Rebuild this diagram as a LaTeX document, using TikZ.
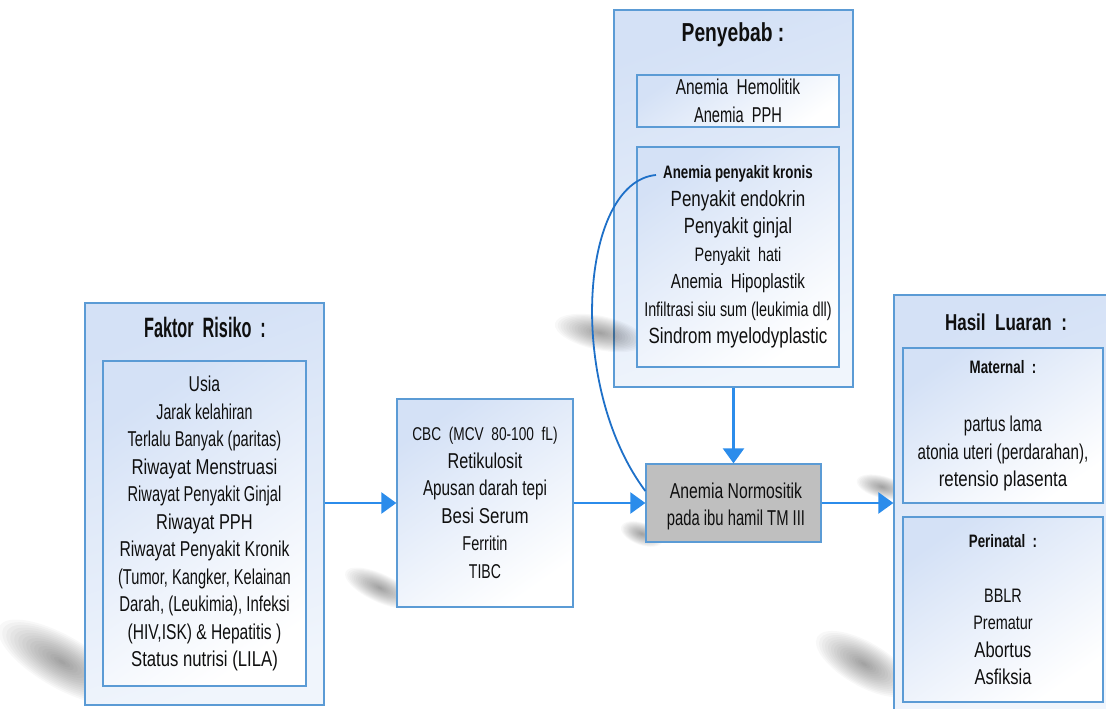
\documentclass[tikz,border=0pt]{standalone}
\usepackage{fontspec}
\setmainfont{Liberation Sans}[FakeStretch=0.74]
\newfontfamily\narrowtitle{Liberation Sans}[FakeStretch=0.58]
\usetikzlibrary{arrows.meta}
\definecolor{bord}{RGB}{91,155,213}
\definecolor{fillA}{RGB}{212,225,246}
\definecolor{fillB}{RGB}{240,245,252}
\definecolor{arrc}{RGB}{43,140,235}
\definecolor{curvc}{RGB}{30,112,200}
\definecolor{grayfill}{RGB}{191,191,191}
\definecolor{txt}{RGB}{15,15,15}
\newcommand\fs[1]{\fontsize{#1}{27.5}\selectfont}
\newcommand\hs[2]{\scalebox{#1}[1]{#2}}
\newcommand\softshadow[5]{\foreach \k in {1,...,16}{\fill[black,opacity=0.028,rotate around={#5:(#1,#2)}] (#1,#2) ellipse [x radius={#3*\k/16}, y radius={#4*\k/16}];}}
\tikzset{
  outerbox/.style={draw=bord, line width=1.3pt, top color=fillA, bottom color=fillB, shading angle=20, inner sep=0pt},
  innerbox/.style={draw=bord, line width=1.3pt, top color=fillA, bottom color=white, shading angle=35, align=center, text=txt, inner sep=0pt, font=\fs{21}},
  graybox/.style={draw=bord, line width=1.3pt, fill=grayfill, inner sep=0pt},
  plaintext/.style={text=txt, inner sep=0pt, align=center, font=\fs{21}},
  titletext/.style={text=txt, inner sep=0pt},
  arrow/.style={draw=arrc, line width=2.5pt, -{Triangle[length=15pt,width=21pt]}},
  curvearrow/.style={draw=curvc, line width=1.8pt}
}
\begin{document}
\begin{tikzpicture}[x=1pt,y=-1pt]
\path[use as bounding box] (0,0) rectangle (1106,709);
\clip (0,0) rectangle (1106,709);
% shadows behind boxes
\softshadow{62}{662}{72}{26}{-30}
\softshadow{380}{588}{38}{14}{-25}
\softshadow{642}{534}{22}{11}{-20}
\softshadow{882}{487}{26}{11}{-15}
\softshadow{864}{664}{54}{22}{-30}
% outer boxes
\node[outerbox, minimum width=239pt, minimum height=402pt] (faktor) at (204.5,504) {};
\node[outerbox, minimum width=239pt, minimum height=377pt] (penyebab) at (733.5,198.5) {};
\node[outerbox, minimum width=221pt, minimum height=420pt] (hasil) at (1004.5,505) {};
\softshadow{600}{333}{46}{17}{-12}
% titles
\node[titletext, font=\narrowtitle\bfseries\fs{28}] (ftitle) at (205,327) {Faktor\ \ Risiko\ \ :};
\node[titletext, font=\bfseries\fs{26}] (ptitle) at (733,35) {Penyebab :};
\node[titletext, font=\bfseries\fs{23}] (htitle) at (1006,322) {Hasil\ \ Luaran\ \ :};
% inner boxes
\node[innerbox, font=\fs{21.5}, minimum width=203pt, minimum height=325pt] (faktorin) at (204.5,523.5) {%
\hs{.99}{Usia}\\ \hs{.89}{Jarak kelahiran}\\ \hs{.92}{Terlalu Banyak (paritas)}\\ \hs{1.05}{Riwayat Menstruasi}\\ \hs{.92}{Riwayat Penyakit Ginjal}\\ \hs{1.03}{Riwayat PPH}\\ \hs{.99}{Riwayat Penyakit Kronik}\\ \hs{.92}{(Tumor, Kangker, Kelainan}\\ \hs{.94}{Darah, (Leukimia), Infeksi}\\ \hs{.98}{(HIV,ISK) \& Hepatitis )}\\ \hs{1.05}{Status nutrisi (LILA)}};
\node[innerbox, minimum width=176pt, minimum height=208pt] (cbc) at (485,503) {%
{\fs{18.5}CBC\ \ (MCV\ \ 80-100\ \ fL)}\\ {\fs{21.5}\hs{1.02}{Retikulosit}}\\ {\fs{21.5}\hs{.96}{Apusan darah tepi}}\\ {\fs{21.5}\hs{1.06}{Besi Serum}}\\ {\fs{20}\hs{.98}{Ferritin}}\\ {\fs{20}\hs{.95}{TIBC}}};
\node[innerbox, font=\fs{21.5}, minimum width=202pt, minimum height=52pt] (pen1) at (738,101) {%
\hs{.97}{Anemia\ \ Hemolitik}\\ \hs{.92}{Anemia\ \ PPH}};
\node[innerbox, minimum width=202pt, minimum height=220pt] (pen2) at (738,257) {%
{\bfseries\fs{18}Anemia penyakit kronis}\\ {\fs{22}\hs{1.04}{Penyakit endokrin}}\\ {\fs{22}\hs{1.03}{Penyakit ginjal}}\\ {\fs{19.5}Penyakit\ \ hati}\\ {\fs{20.5}Anemia\ \ Hipoplastik}\\ {\fs{20}\hs{.97}{Infiltrasi siu sum (leukimia dll)}}\\ {\fs{22}\hs{1.04}{Sindrom myelodyplastic}}};
\node[graybox, minimum width=175pt, minimum height=78pt] (anemia) at (733.5,503) {};
\node[plaintext, font=\fs{21.5}] (anemiatxt) at (736,506.5) {\hs{.99}{Anemia Normositik}\\ \hs{.93}{pada ibu hamil TM III}};
\node[innerbox, font=\fs{21.5}, minimum width=200pt, minimum height=155pt] (maternal) at (1003,425.5) {%
{\bfseries\fs{18}Maternal\ \ :}\\[31pt] \hs{.94}{partus lama}\\ \hs{.95}{atonia uteri (perdarahan),}\\ \hs{1.06}{retensio plasenta}};
\node[innerbox, minimum width=200pt, minimum height=185pt] (perinatal) at (1003,609.5) {%
{\bfseries\fs{18}Perinatal\ \ :}\\[27.5pt] {\fs{19.5}BBLR}\\ {\fs{19.5}Prematur}\\ {\fs{21.5}\hs{1.04}{Abortus}}\\ {\fs{21.5}\hs{1.04}{Asfiksia}}};
% connectors
\coordinate (kr) at (656,175);
\draw[arrow] (faktor.east |- cbc.west) -- (cbc.west);
\draw[arrow] (cbc.east) -- (anemia.west);
\draw[arrow] (anemia.east) -- (anemia.east -| hasil.west);
\draw[arrow] (penyebab.south) -- (anemia.north);
\draw[curvearrow] (kr) .. controls (580,182) and (566,385) .. ([yshift=12pt]anemia.west);
\end{tikzpicture}
\end{document}
